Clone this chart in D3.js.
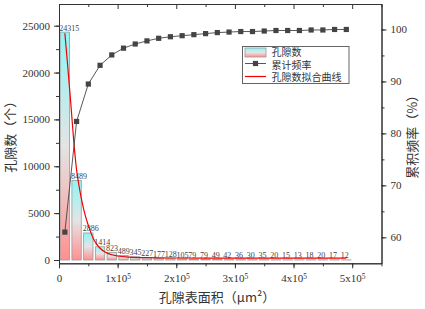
<!DOCTYPE html>
<html>
<head>
<meta charset="utf-8">
<script src="https://cdn.jsdelivr.net/npm/d3@7"></script>
<style>
  body { margin: 0; background: #fff; }
  svg { display: block; }
</style>
</head>
<body>
<div id="chart"></div>
<script>
// bin centres (um^2), counts per bin, cumulative frequency (%)
const binCenters = [10000, 30000, 50000, 70000, 90000, 110000, 130000, 150000, 170000, 190000,
  210000, 230000, 250000, 270000, 290000, 310000, 330000, 350000, 370000, 390000,
  410000, 430000, 450000, 470000, 490000];
const poreCounts = [24315, 8489, 2886, 1414, 823, 489, 345, 227, 177, 128, 105, 79, 79, 49, 42,
  36, 30, 35, 20, 15, 13, 18, 20, 17, 12];
const cumulativePct = [61.0, 82.3, 89.5, 93.1, 95.1, 96.4, 97.2, 97.8, 98.3, 98.6, 98.8, 99.0,
  99.2, 99.4, 99.5, 99.6, 99.6, 99.7, 99.8, 99.8, 99.8, 99.9, 99.9, 100.0, 100.0];

// fitted curve
const fitX = [10000, 15000, 20000, 25000, 30000, 35000, 40000, 45000, 50000, 60000, 70000, 80000,
  90000, 100000, 120000, 150000, 200000, 300000, 400000, 490000];
const fitY = [24200, 20600, 16800, 12800, 9600, 7600, 6000, 4700, 3700, 2100, 1250, 800,
  560, 430, 310, 250, 215, 200, 195, 195];

const xTicks = [0, 100000, 200000, 300000, 400000, 500000];
const yLeftTicks = [0, 5000, 10000, 15000, 20000, 25000];
const yRightTicks = [60, 70, 80, 90, 100];
const legendLabels = ["孔隙数", "累计频率", "孔隙数拟合曲线"];

const config = {
  width: 425,
  height: 309,
  left: 59,
  right: 381.5,
  top: 4,
  bottom: 263.3,
  barHalf: 8000,
};

const serif = "'Liberation Serif', 'DejaVu Serif', serif";
const cjk = "'Noto Sans CJK SC', sans-serif";
const ink = "#333";

const svg = d3
  .select("#chart")
  .append("svg")
  .attr("width", config.width)
  .attr("height", config.height);

const x = d3.scaleLinear().domain([0, 550000]).range([config.left, config.right]);
const y = d3.scaleLinear().domain([-352, 27315]).range([config.bottom, config.top]);
const yR = d3.scaleLinear().domain([55, 104.9]).range([config.bottom, config.top]);

// bar gradient: cyan top, pale grey middle, pink bottom
const defs = svg.append("defs");
const grad = defs.append("linearGradient")
  .attr("id", "barGrad")
  .attr("x1", 0).attr("y1", 0).attr("x2", 0).attr("y2", 1);
grad.append("stop").attr("offset", "0%").attr("stop-color", "#8cf6f6");
grad.append("stop").attr("offset", "50%").attr("stop-color", "#e4e4e4");
grad.append("stop").attr("offset", "100%").attr("stop-color", "#ff9090");

// bars
svg.selectAll("rect.bar")
  .data(poreCounts)
  .join("rect")
  .attr("class", "bar")
  .attr("x", (d, i) => x(binCenters[i] - config.barHalf))
  .attr("y", (d) => y(d))
  .attr("width", x(2 * config.barHalf) - x(0))
  .attr("height", (d) => y(0) - y(d))
  .attr("fill", "url(#barGrad)")
  .attr("stroke", "#9a9a9a")
  .attr("stroke-width", 0.8);

// bar value labels
svg.selectAll("text.barLabel")
  .data(poreCounts)
  .join("text")
  .attr("class", "barLabel")
  .attr("x", (d, i) => x(binCenters[i] - config.barHalf) - 1)
  .attr("y", (d) => y(d) - 1.5)
  .style("font-family", serif)
  .style("font-size", "8px")
  .attr("fill", "#444")
  .text((d) => d);

// fitted curve
const fitLine = d3.line()
  .x((d, i) => x(fitX[i]))
  .y((d) => y(d))
  .curve(d3.curveMonotoneX);
svg.append("path")
  .attr("d", fitLine(fitY))
  .attr("fill", "none")
  .attr("stroke", "#f00000")
  .attr("stroke-width", 1.2);

// cumulative frequency
const cumLine = d3.line()
  .x((d, i) => x(binCenters[i]))
  .y((d) => yR(d));
svg.append("path")
  .attr("d", cumLine(cumulativePct))
  .attr("fill", "none")
  .attr("stroke", "#444")
  .attr("stroke-width", 0.9);
svg.selectAll("rect.cumPoint")
  .data(cumulativePct)
  .join("rect")
  .attr("class", "cumPoint")
  .attr("x", (d, i) => x(binCenters[i]) - 2.6)
  .attr("y", (d) => yR(d) - 2.6)
  .attr("width", 5.2)
  .attr("height", 5.2)
  .attr("fill", "#444");

// axes
function styleAxis(g) {
  g.select(".domain").attr("stroke", ink);
  g.selectAll(".tick line").attr("stroke", ink);
  g.selectAll(".tick text")
    .attr("fill", ink)
    .style("font-family", serif)
    .style("font-size", "11px");
}

const xMinor = d3.range(0, 550001, 50000);
svg.append("g")
  .attr("transform", `translate(0,${config.bottom})`)
  .call(d3.axisBottom(x).tickValues(xMinor).tickSize(3).tickFormat("").tickSizeOuter(0))
  .call(styleAxis);
const xAxis = svg.append("g")
  .attr("transform", `translate(0,${config.bottom})`)
  .call(d3.axisBottom(x).tickValues(xTicks).tickSize(5).tickPadding(6).tickSizeOuter(0)
    .tickFormat((d) => (d === 0 ? "0" : `${d / 100000}x10`)))
  .call(styleAxis);
xAxis.selectAll(".tick text")
  .filter((d) => d !== 0)
  .append("tspan")
  .attr("dy", "-0.45em")
  .style("font-size", "7.5px")
  .text("5");

// top axis, ticks inside
svg.append("g")
  .attr("transform", `translate(0,${config.top})`)
  .call(d3.axisBottom(x).tickValues(xMinor).tickSize(3).tickFormat("").tickSizeOuter(0))
  .call(styleAxis)
  .call((g) => g.selectAll(".tick line").filter((d) => d % 100000 === 0).attr("y2", 5));

const yMinor = d3.range(0, 27315, 2500);
svg.append("g")
  .attr("transform", `translate(${config.left},0)`)
  .call(d3.axisLeft(y).tickValues(yMinor).tickSize(3).tickFormat("").tickSizeOuter(0))
  .call(styleAxis);
svg.append("g")
  .attr("transform", `translate(${config.left},0)`)
  .call(d3.axisLeft(y).tickValues(yLeftTicks).tickSize(5).tickPadding(4).tickSizeOuter(0)
    .tickFormat(d3.format("d")))
  .call(styleAxis);

const yRMinor = d3.range(60, 105, 5);
svg.append("g")
  .attr("transform", `translate(${config.right},0)`)
  .call(d3.axisRight(yR).tickValues(yRMinor).tickSize(3).tickFormat("").tickSizeOuter(0))
  .call(styleAxis);
svg.append("g")
  .attr("transform", `translate(${config.right},0)`)
  .call(d3.axisRight(yR).tickValues(yRightTicks).tickSize(5).tickPadding(4).tickSizeOuter(0))
  .call(styleAxis);

// axis titles
svg.append("text")
  .attr("transform", `translate(15,${(config.top + config.bottom) / 2}) rotate(-90)`)
  .attr("text-anchor", "middle")
  .style("font-family", cjk)
  .style("font-size", "13px")
  .attr("fill", ink)
  .text("孔隙数（个）");

svg.append("text")
  .attr("transform", `translate(417,${(config.top + config.bottom) / 2}) rotate(-90)`)
  .attr("text-anchor", "middle")
  .style("font-family", cjk)
  .style("font-size", "13px")
  .attr("fill", ink)
  .text("累积频率（%）");

svg.append("text")
  .attr("x", 217)
  .attr("y", 302)
  .attr("text-anchor", "middle")
  .style("font-family", cjk)
  .style("font-size", "13px")
  .attr("fill", ink)
  .text("孔隙表面积（μm²）");

// legend
const legend = svg.append("g").attr("transform", "translate(242.5,46.5)");
legend.append("rect")
  .attr("width", 106.5)
  .attr("height", 37)
  .attr("fill", "#fff")
  .attr("stroke", "#555")
  .attr("stroke-width", 0.9);
legend.append("rect")
  .attr("x", 2.5).attr("y", 1.5)
  .attr("width", 21).attr("height", 9)
  .attr("fill", "url(#barGrad)")
  .attr("stroke", "#9a9a9a")
  .attr("stroke-width", 0.8);
legend.append("line")
  .attr("x1", 2.5).attr("x2", 23.5).attr("y1", 17).attr("y2", 17)
  .attr("stroke", "#444").attr("stroke-width", 0.9);
legend.append("rect")
  .attr("x", 10.4).attr("y", 14.4).attr("width", 5.2).attr("height", 5.2)
  .attr("fill", "#444");
legend.append("line")
  .attr("x1", 2.5).attr("x2", 23.5).attr("y1", 30).attr("y2", 30)
  .attr("stroke", "#f00000").attr("stroke-width", 1.2);
legend.selectAll("text.legendLabel")
  .data(legendLabels)
  .join("text")
  .attr("class", "legendLabel")
  .attr("x", 29)
  .attr("y", (d, i) => 9.5 + i * 12.6)
  .style("font-family", cjk)
  .style("font-size", "10px")
  .attr("fill", ink)
  .text((d) => d);
</script>
</body>
</html>
